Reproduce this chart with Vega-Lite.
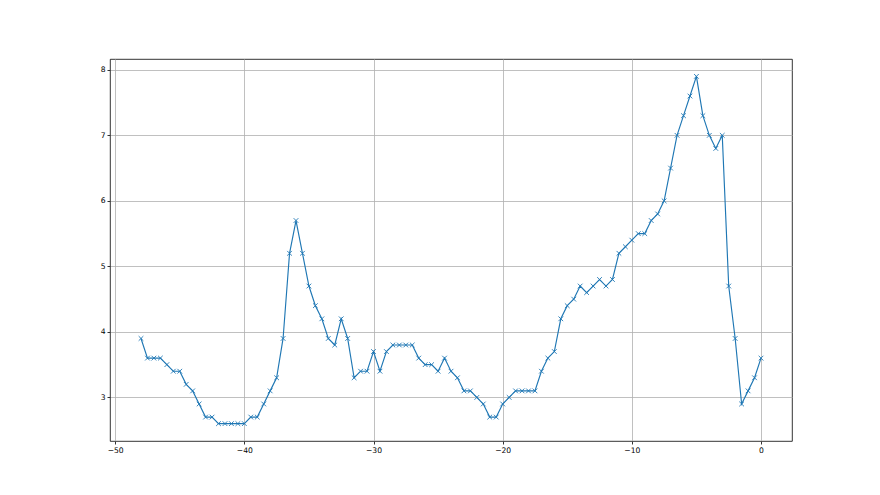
{
  "$schema": "https://vega.github.io/schema/vega-lite/v6.json",
  "autosize": "none",
  "width": 682,
  "height": 382,
  "padding": {"left": 110, "top": 59, "right": 88, "bottom": 54},
  "background": "white",
  "config": {
    "view": {"stroke": "#000000", "strokeWidth": 0.8},
    "axis": {
      "domain": false,
      "grid": true,
      "gridColor": "#b0b0b0",
      "gridWidth": 0.8,
      "tickColor": "#000000",
      "tickSize": 3,
      "tickWidth": 0.8,
      "labelFont": "DejaVu Sans",
      "labelFontSize": 7.6,
      "labelColor": "#000000",
      "labelPadding": 2,
      "title": null
    }
  },
  "data": {
    "values": [
      {"x": -48, "y": 3.9}, {"x": -47.5, "y": 3.6}, {"x": -47, "y": 3.6}, {"x": -46.5, "y": 3.6},
      {"x": -46, "y": 3.5}, {"x": -45.5, "y": 3.4}, {"x": -45, "y": 3.4}, {"x": -44.5, "y": 3.2},
      {"x": -44, "y": 3.1}, {"x": -43.5, "y": 2.9}, {"x": -43, "y": 2.7}, {"x": -42.5, "y": 2.7},
      {"x": -42, "y": 2.6}, {"x": -41.5, "y": 2.6}, {"x": -41, "y": 2.6}, {"x": -40.5, "y": 2.6},
      {"x": -40, "y": 2.6}, {"x": -39.5, "y": 2.7}, {"x": -39, "y": 2.7}, {"x": -38.5, "y": 2.9},
      {"x": -38, "y": 3.1}, {"x": -37.5, "y": 3.3}, {"x": -37, "y": 3.9}, {"x": -36.5, "y": 5.2},
      {"x": -36, "y": 5.7}, {"x": -35.5, "y": 5.2}, {"x": -35, "y": 4.7}, {"x": -34.5, "y": 4.4},
      {"x": -34, "y": 4.2}, {"x": -33.5, "y": 3.9}, {"x": -33, "y": 3.8}, {"x": -32.5, "y": 4.2},
      {"x": -32, "y": 3.9}, {"x": -31.5, "y": 3.3}, {"x": -31, "y": 3.4}, {"x": -30.5, "y": 3.4},
      {"x": -30, "y": 3.7}, {"x": -29.5, "y": 3.4}, {"x": -29, "y": 3.7}, {"x": -28.5, "y": 3.8},
      {"x": -28, "y": 3.8}, {"x": -27.5, "y": 3.8}, {"x": -27, "y": 3.8}, {"x": -26.5, "y": 3.6},
      {"x": -26, "y": 3.5}, {"x": -25.5, "y": 3.5}, {"x": -25, "y": 3.4}, {"x": -24.5, "y": 3.6},
      {"x": -24, "y": 3.4}, {"x": -23.5, "y": 3.3}, {"x": -23, "y": 3.1}, {"x": -22.5, "y": 3.1},
      {"x": -22, "y": 3.0}, {"x": -21.5, "y": 2.9}, {"x": -21, "y": 2.7}, {"x": -20.5, "y": 2.7},
      {"x": -20, "y": 2.9}, {"x": -19.5, "y": 3.0}, {"x": -19, "y": 3.1}, {"x": -18.5, "y": 3.1},
      {"x": -18, "y": 3.1}, {"x": -17.5, "y": 3.1}, {"x": -17, "y": 3.4}, {"x": -16.5, "y": 3.6},
      {"x": -16, "y": 3.7}, {"x": -15.5, "y": 4.2}, {"x": -15, "y": 4.4}, {"x": -14.5, "y": 4.5},
      {"x": -14, "y": 4.7}, {"x": -13.5, "y": 4.6}, {"x": -13, "y": 4.7}, {"x": -12.5, "y": 4.8},
      {"x": -12, "y": 4.7}, {"x": -11.5, "y": 4.8}, {"x": -11, "y": 5.2}, {"x": -10.5, "y": 5.3},
      {"x": -10, "y": 5.4}, {"x": -9.5, "y": 5.5}, {"x": -9, "y": 5.5}, {"x": -8.5, "y": 5.7},
      {"x": -8, "y": 5.8}, {"x": -7.5, "y": 6.0}, {"x": -7, "y": 6.5}, {"x": -6.5, "y": 7.0},
      {"x": -6, "y": 7.3}, {"x": -5.5, "y": 7.6}, {"x": -5, "y": 7.9}, {"x": -4.5, "y": 7.3},
      {"x": -4, "y": 7.0}, {"x": -3.5, "y": 6.8}, {"x": -3, "y": 7.0}, {"x": -2.5, "y": 4.7},
      {"x": -2, "y": 3.9}, {"x": -1.5, "y": 2.9}, {"x": -1, "y": 3.1}, {"x": -0.5, "y": 3.3},
      {"x": 0, "y": 3.6}
    ]
  },
  "encoding": {
    "x": {
      "field": "x", "type": "quantitative",
      "scale": {"domain": [-50.4, 2.4], "nice": false, "zero": false},
      "axis": {"values": [-50, -40, -30, -20, -10, 0], "format": "d"}
    },
    "y": {
      "field": "y", "type": "quantitative",
      "scale": {"domain": [2.335, 8.165], "nice": false, "zero": false},
      "axis": {"values": [3, 4, 5, 6, 7, 8], "format": "d"}
    }
  },
  "layer": [
    {
      "mark": {"type": "line", "color": "#1f77b4", "strokeWidth": 1.15, "clip": true}
    },
    {
      "mark": {
        "type": "point",
        "shape": "M -1 -1 L 1 1 M -1 1 L 1 -1",
        "filled": false,
        "stroke": "#1f77b4",
        "strokeWidth": 0.9,
        "size": 22,
        "opacity": 1
      }
    }
  ]
}
